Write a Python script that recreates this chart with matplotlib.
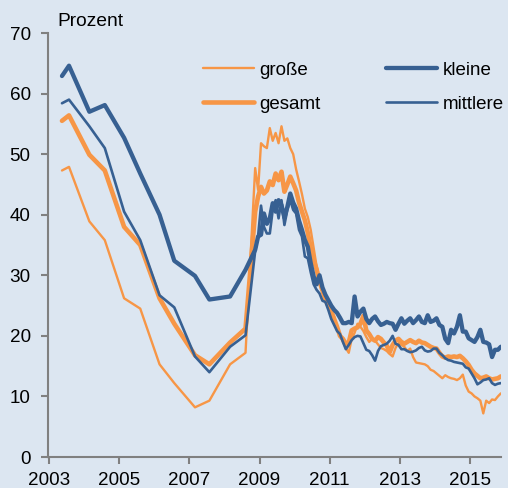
import numpy as np
import matplotlib
matplotlib.use('Agg')
import matplotlib.pyplot as plt

# early survey dates (irregular), then monthly from Nov 2008 to Nov 2015
early_dates = [2003.37, 2003.57, 2004.15, 2004.59, 2005.14, 2005.6,
               2006.15, 2006.57, 2007.16, 2007.57, 2008.16, 2008.6]
monthly_dates = list(2008 + (np.arange(85) + 10.5) / 12)

grosse_early = [47.3, 47.9, 38.9, 35.8, 26.2, 24.5, 15.3, 12.2, 8.2, 9.3, 15.3, 17.2]
kleine_early = [62.9, 64.6, 57.0, 58.1, 52.7, 46.8, 40.0, 32.4, 29.9, 26.0, 26.5, 30.9]
gesamt_early = [55.5, 56.4, 49.9, 47.3, 38.0, 35.0, 26.2, 22.0, 16.8, 15.3, 18.9, 21.2]
mittlere_early = [58.4, 59.0, 54.6, 51.0, 40.5, 35.8, 26.7, 24.7, 16.6, 14.0, 18.2, 20.1]

grosse_monthly = [
    47.7, 44.1, 51.8, 51.3, 51.0, 54.3, 52.2, 53.5, 51.8, 54.6, 52.2, 52.6,
    51.0, 50.0, 47.5, 45.5, 43.4, 41.0, 39.6, 37.5, 34.5, 31.5, 29.5, 27.5,
    26.5, 25.5, 24.5, 23.2, 21.0, 20.0, 19.0, 18.0, 17.2, 19.5, 20.5, 22.0,
    21.5, 20.8, 19.8, 19.0, 19.5, 19.2, 18.6, 18.0, 17.8, 17.5, 17.0, 16.6,
    18.0, 18.8, 18.5, 18.2, 17.5, 17.9, 16.5, 15.6, 15.5, 15.4, 15.3, 15.0,
    14.4, 14.2, 13.8, 13.4, 13.0, 13.5, 13.2, 13.0, 12.9, 12.7, 13.0, 13.6,
    11.8, 10.8, 10.5, 10.0, 9.7, 9.3, 7.2, 9.3, 8.9, 9.5, 9.4, 10.0, 10.5]

kleine_monthly = [
    34.2, 36.4, 36.7, 40.2, 38.5, 39.4, 41.9, 40.5, 42.4, 41.6, 39.5, 41.3,
    43.5, 42.0, 41.0, 39.0, 37.5, 35.8, 34.7, 32.0, 29.8, 28.5, 30.0, 28.0,
    26.8, 25.9, 25.0, 24.3, 23.8, 23.0, 22.1, 22.1, 22.3, 22.1, 26.5, 23.2,
    24.0, 24.5, 22.8, 22.1, 22.8, 23.2, 22.4, 21.8, 22.0, 22.3, 22.1, 22.0,
    21.0, 22.0, 22.9, 22.0, 22.5, 22.9, 22.1, 22.6, 23.2, 22.3, 22.1, 23.4,
    22.3, 22.5, 22.9, 21.8, 21.5, 19.5, 18.8, 21.0, 20.4, 21.5, 23.4, 20.7,
    20.7, 19.6, 19.3, 19.0, 19.8, 21.0, 19.0, 18.9, 18.6, 16.5, 17.7, 17.7, 18.2]

gesamt_monthly = [
    40.5, 43.0, 44.6, 43.5, 44.0, 45.5, 44.9, 46.8, 45.7, 47.1, 43.8, 45.0,
    46.3, 45.2, 44.0, 42.0, 40.5, 39.1, 37.0, 34.5, 32.5, 31.0, 29.0, 27.5,
    26.0, 25.0, 24.0, 22.8, 21.5, 20.0, 19.5, 18.7, 18.9, 20.9, 21.2, 21.4,
    22.0, 23.3, 20.9, 20.3, 19.5, 19.2, 19.8, 19.5, 18.9, 18.4, 17.3, 18.5,
    19.2, 19.5, 19.0, 18.7, 19.0, 19.3, 19.0, 18.8, 19.2, 18.9, 18.8, 18.5,
    18.2, 18.0, 17.9, 17.2, 16.6, 16.4, 16.6, 16.5, 16.6, 16.5, 16.7, 16.3,
    15.8, 15.2, 14.4, 13.8, 13.4, 13.0, 13.1, 13.3, 13.0, 12.8, 12.9, 13.0, 13.3]

mittlere_monthly = [
    34.0, 36.5, 41.5, 38.0, 36.9, 36.9, 40.8, 42.4, 39.4, 42.4, 38.3, 40.8,
    42.4, 40.8, 40.2, 37.5, 36.4, 33.1, 32.8, 30.5, 28.5, 27.6, 27.0, 25.8,
    25.6, 24.3, 22.8, 21.8, 20.8, 20.3, 19.0, 17.8, 18.5, 19.3, 19.8, 20.0,
    19.9, 18.8, 17.7, 17.5, 16.8, 15.9, 17.5, 18.3, 18.5, 18.7, 19.2, 20.0,
    18.7, 18.5, 17.8, 17.8, 17.5, 17.3, 17.4, 17.6, 18.0, 18.2, 17.6, 17.4,
    17.5, 17.9, 17.9, 17.2, 16.8, 16.3, 16.0, 15.9, 15.7, 15.6, 15.5, 15.4,
    14.8, 14.6, 13.8, 13.0, 12.0, 12.3, 12.7, 12.8, 13.0, 12.2, 11.9, 12.1, 12.2]

dates = early_dates + monthly_dates
grosse = grosse_early + grosse_monthly
kleine = kleine_early + kleine_monthly
gesamt = gesamt_early + gesamt_monthly
mittlere = mittlere_early + mittlere_monthly

orange = '#f79646'
blue = '#376092'
bg = '#dce6f1'

plt.rcParams['font.family'] = ['Liberation Sans', 'DejaVu Sans']
plt.rcParams['lines.solid_joinstyle'] = 'round'
plt.rcParams['lines.solid_capstyle'] = 'round'

fig = plt.figure(figsize=(5.08, 4.88), dpi=100, facecolor=bg)
ax = fig.add_axes([48 / 508, 31 / 488, 453 / 508, 424 / 488], facecolor=bg)

ax.plot(dates, grosse, color=orange, lw=1.7, label='große')
ax.plot(dates, gesamt, color=orange, lw=3.3, label='gesamt')
ax.plot(dates, kleine, color=blue, lw=3.1, label='kleine')
ax.plot(dates, mittlere, color=blue, lw=1.9, label='mittlere')

ax.set_xlim(2003 - 1 / 35.1, 2015.88)
ax.set_ylim(0, 70)
ax.set_xticks([2003, 2005, 2007, 2009, 2011, 2013, 2015])
ax.set_yticks(range(0, 71, 10))

for side in ['top', 'right']:
    ax.spines[side].set_visible(False)
for side in ['left', 'bottom']:
    ax.spines[side].set_color('#808080')
    ax.spines[side].set_linewidth(1.5)
ax.tick_params(colors='#808080', labelcolor='black', labelsize=13.6,
               length=5, width=1.5, direction='out')
ax.tick_params(axis='x', pad=6)
ax.tick_params(axis='y', pad=7.5)

ax.legend(ncol=2, loc='upper left', bbox_to_anchor=(0.342, 0.933),
          frameon=False, fontsize=13.5, handlelength=2.7, handletextpad=0.32,
          columnspacing=3.5, labelspacing=0.9, borderpad=0, borderaxespad=0)

fig.text(57 / 508, 1 - 26 / 488, 'Prozent', fontsize=13.8, va='baseline')

fig.savefig('out.png', dpi=100, facecolor=bg)
